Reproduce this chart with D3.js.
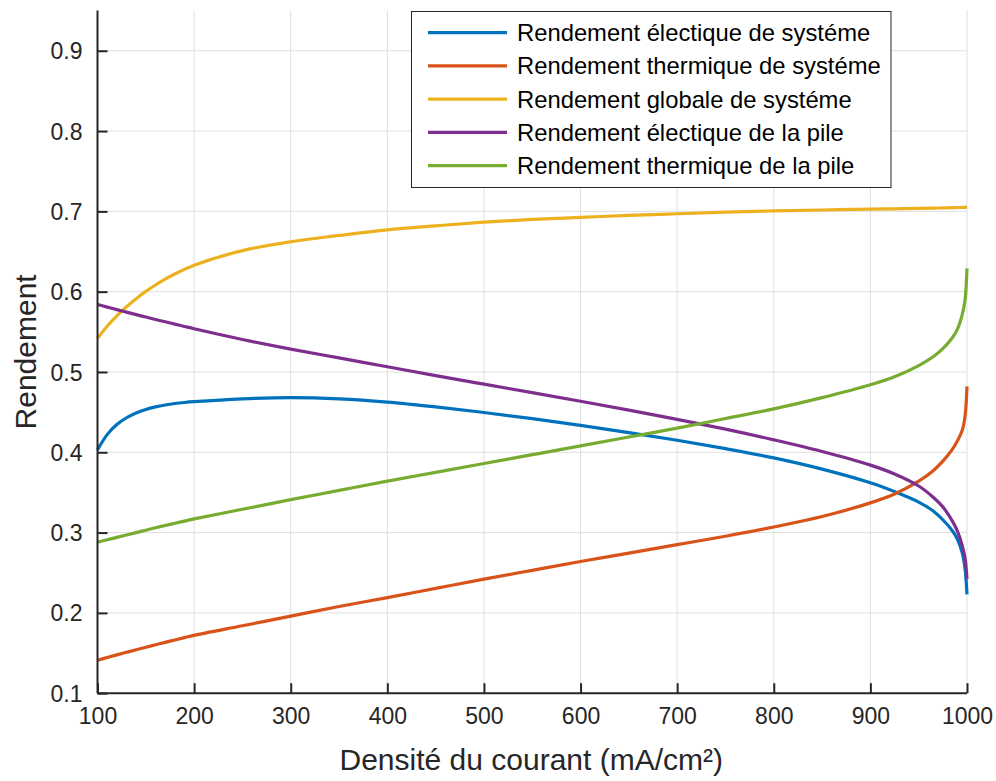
<!DOCTYPE html>
<html>
<head>
<meta charset="utf-8">
<script src="https://cdn.jsdelivr.net/npm/d3@7"></script>
<style>
  html, body { margin: 0; padding: 0; background: #fff; }
  svg { display: block; font-family: "Liberation Sans", Arial, sans-serif; }
</style>
</head>
<body>
<svg id="chart" width="996" height="781"></svg>
<script>
// ---- data ----
const current = [100,110,120,130,140,150,160,170,180,190,200,250,300,350,400,450,500,550,600,650,700,750,800,850,900,925,950,965,975,985,990,995,998,1000];
const elecSystem = [0.403,0.422,0.4345,0.443,0.449,0.4533,0.4565,0.4589,0.4607,0.462,0.463,0.4665,0.468,0.4665,0.4625,0.4565,0.4495,0.442,0.4335,0.4245,0.415,0.4045,0.393,0.379,0.362,0.351,0.338,0.327,0.316,0.302,0.292,0.275,0.255,0.223];
const thermSystem = [0.141,0.1444,0.1477,0.1509,0.1541,0.1572,0.1603,0.1633,0.1663,0.1692,0.172,0.184,0.196,0.208,0.219,0.2305,0.242,0.253,0.264,0.2745,0.285,0.2955,0.307,0.320,0.337,0.348,0.364,0.377,0.389,0.404,0.414,0.427,0.445,0.482];
const globalSystem = [0.542,0.557,0.570,0.5813,0.5913,0.6003,0.6083,0.6155,0.622,0.6278,0.633,0.6511,0.6622,0.670,0.677,0.682,0.6865,0.690,0.6925,0.695,0.697,0.699,0.7005,0.7017,0.7027,0.7032,0.7037,0.704,0.7043,0.7046,0.7048,0.7049,0.705,0.705];
const elecPile = [0.584,0.5808,0.5776,0.5745,0.5714,0.5684,0.5654,0.5625,0.5596,0.5567,0.5538,0.5405,0.5285,0.5175,0.5065,0.4955,0.4848,0.4742,0.4635,0.4525,0.441,0.4288,0.4155,0.401,0.384,0.373,0.358,0.344,0.332,0.314,0.302,0.284,0.268,0.242];
const thermPile = [0.288,0.291,0.294,0.297,0.300,0.303,0.306,0.3088,0.3116,0.3143,0.317,0.329,0.341,0.3525,0.364,0.375,0.386,0.397,0.408,0.419,0.430,0.442,0.454,0.468,0.484,0.494,0.508,0.519,0.529,0.543,0.553,0.571,0.590,0.629];

const seriesNames = ["Rendement électique de systéme","Rendement thermique de systéme","Rendement globale de systéme","Rendement électique de la pile","Rendement thermique de la pile"];
const seriesColors = ["#0072BD","#D95319","#EDB120","#7E2F8E","#77AC30"];
const seriesValues = [elecSystem, thermSystem, globalSystem, elecPile, thermPile];
const xTicks = [100,200,300,400,500,600,700,800,900,1000];
const yTicks = [0.1,0.2,0.3,0.4,0.5,0.6,0.7,0.8,0.9];
const xLabel = "Densité du courant (mA/cm²)";
const yLabel = "Rendement";

// ---- layout ----
const svg = d3.select("#chart");
const pLeft = 97.5, pRight = 967, pTop = 10.6, pBottom = 693.2;
const x = d3.scaleLinear().domain([100,1000]).range([pLeft,pRight]);
const y = d3.scaleLinear().domain([0.1,0.95]).range([pBottom,pTop]);
const textColor = "#262626";

// grid
const grid = svg.append("g");
grid.selectAll("line.vg").data(xTicks.slice(1)).enter().append("line")
  .attr("x1", d => x(d)).attr("x2", d => x(d)).attr("y1", pTop).attr("y2", pBottom)
  .attr("stroke", "#dfdfdf").attr("stroke-width", 1);
grid.selectAll("line.hg").data(yTicks.slice(1)).enter().append("line")
  .attr("x1", pLeft).attr("x2", pRight).attr("y1", d => y(d)).attr("y2", d => y(d))
  .attr("stroke", "#dfdfdf").attr("stroke-width", 1);

// lines
const line = d3.line().curve(d3.curveCatmullRom.alpha(0.5));
seriesValues.forEach((vals, i) => {
  svg.append("path")
    .attr("d", line(current.map((c, j) => [x(c), y(vals[j])])))
    .attr("fill", "none").attr("stroke", seriesColors[i]).attr("stroke-width", 3.2);
});

// axes
const xAxis = d3.axisBottom(x).tickValues(xTicks).tickFormat(d3.format("d"))
  .tickSizeInner(-10).tickSizeOuter(0).tickPadding(14);
const yAxis = d3.axisLeft(y).tickValues(yTicks).tickFormat(d3.format(".1f"))
  .tickSizeInner(-10).tickSizeOuter(0).tickPadding(15);
const gx = svg.append("g").attr("transform", `translate(0,${pBottom})`).call(xAxis);
const gy = svg.append("g").attr("transform", `translate(${pLeft},0)`).call(yAxis);
[gx, gy].forEach(g => {
  g.select(".domain").attr("stroke", textColor).attr("stroke-width", 2);
  g.selectAll(".tick line").attr("stroke", textColor).attr("stroke-width", 2);
  g.selectAll(".tick text").attr("fill", textColor).style("font-size", "23px")
    .style("font-family", "'Liberation Sans', Arial, sans-serif");
});
gy.select(".domain").attr("d", `M0,${pBottom}V${pTop}`);
gx.select(".domain").attr("d", `M${pLeft},0H${pRight}`);
gy.selectAll(".tick text").attr("dy", "0.35em");
gx.selectAll(".tick text").attr("dy", "0.71em");

// axis labels
svg.append("text").attr("x", (pLeft+pRight)/2 - 1).attr("y", 770).attr("text-anchor", "middle")
  .attr("fill", textColor).style("font-size", "30px").text(xLabel);
svg.append("text").attr("transform", `translate(36,${(pTop+pBottom)/2}) rotate(-90)`)
  .attr("text-anchor", "middle").attr("fill", textColor).style("font-size", "30px").text(yLabel);

// legend
const lg = svg.append("g");
lg.append("rect").attr("x", 411.5).attr("y", 11.5).attr("width", 479.5).attr("height", 176)
  .attr("fill", "#fff").attr("stroke", textColor).attr("stroke-width", 1);
seriesNames.forEach((name, i) => {
  const ly = 32.7 + i*33.25;
  lg.append("line").attr("x1", 428).attr("x2", 507).attr("y1", ly).attr("y2", ly)
    .attr("stroke", seriesColors[i]).attr("stroke-width", 3.2);
  lg.append("text").attr("x", 517).attr("y", ly).attr("dy", "0.35em")
    .attr("fill", "#000").style("font-size", "23.8px").text(name);
});
</script>
</body>
</html>
